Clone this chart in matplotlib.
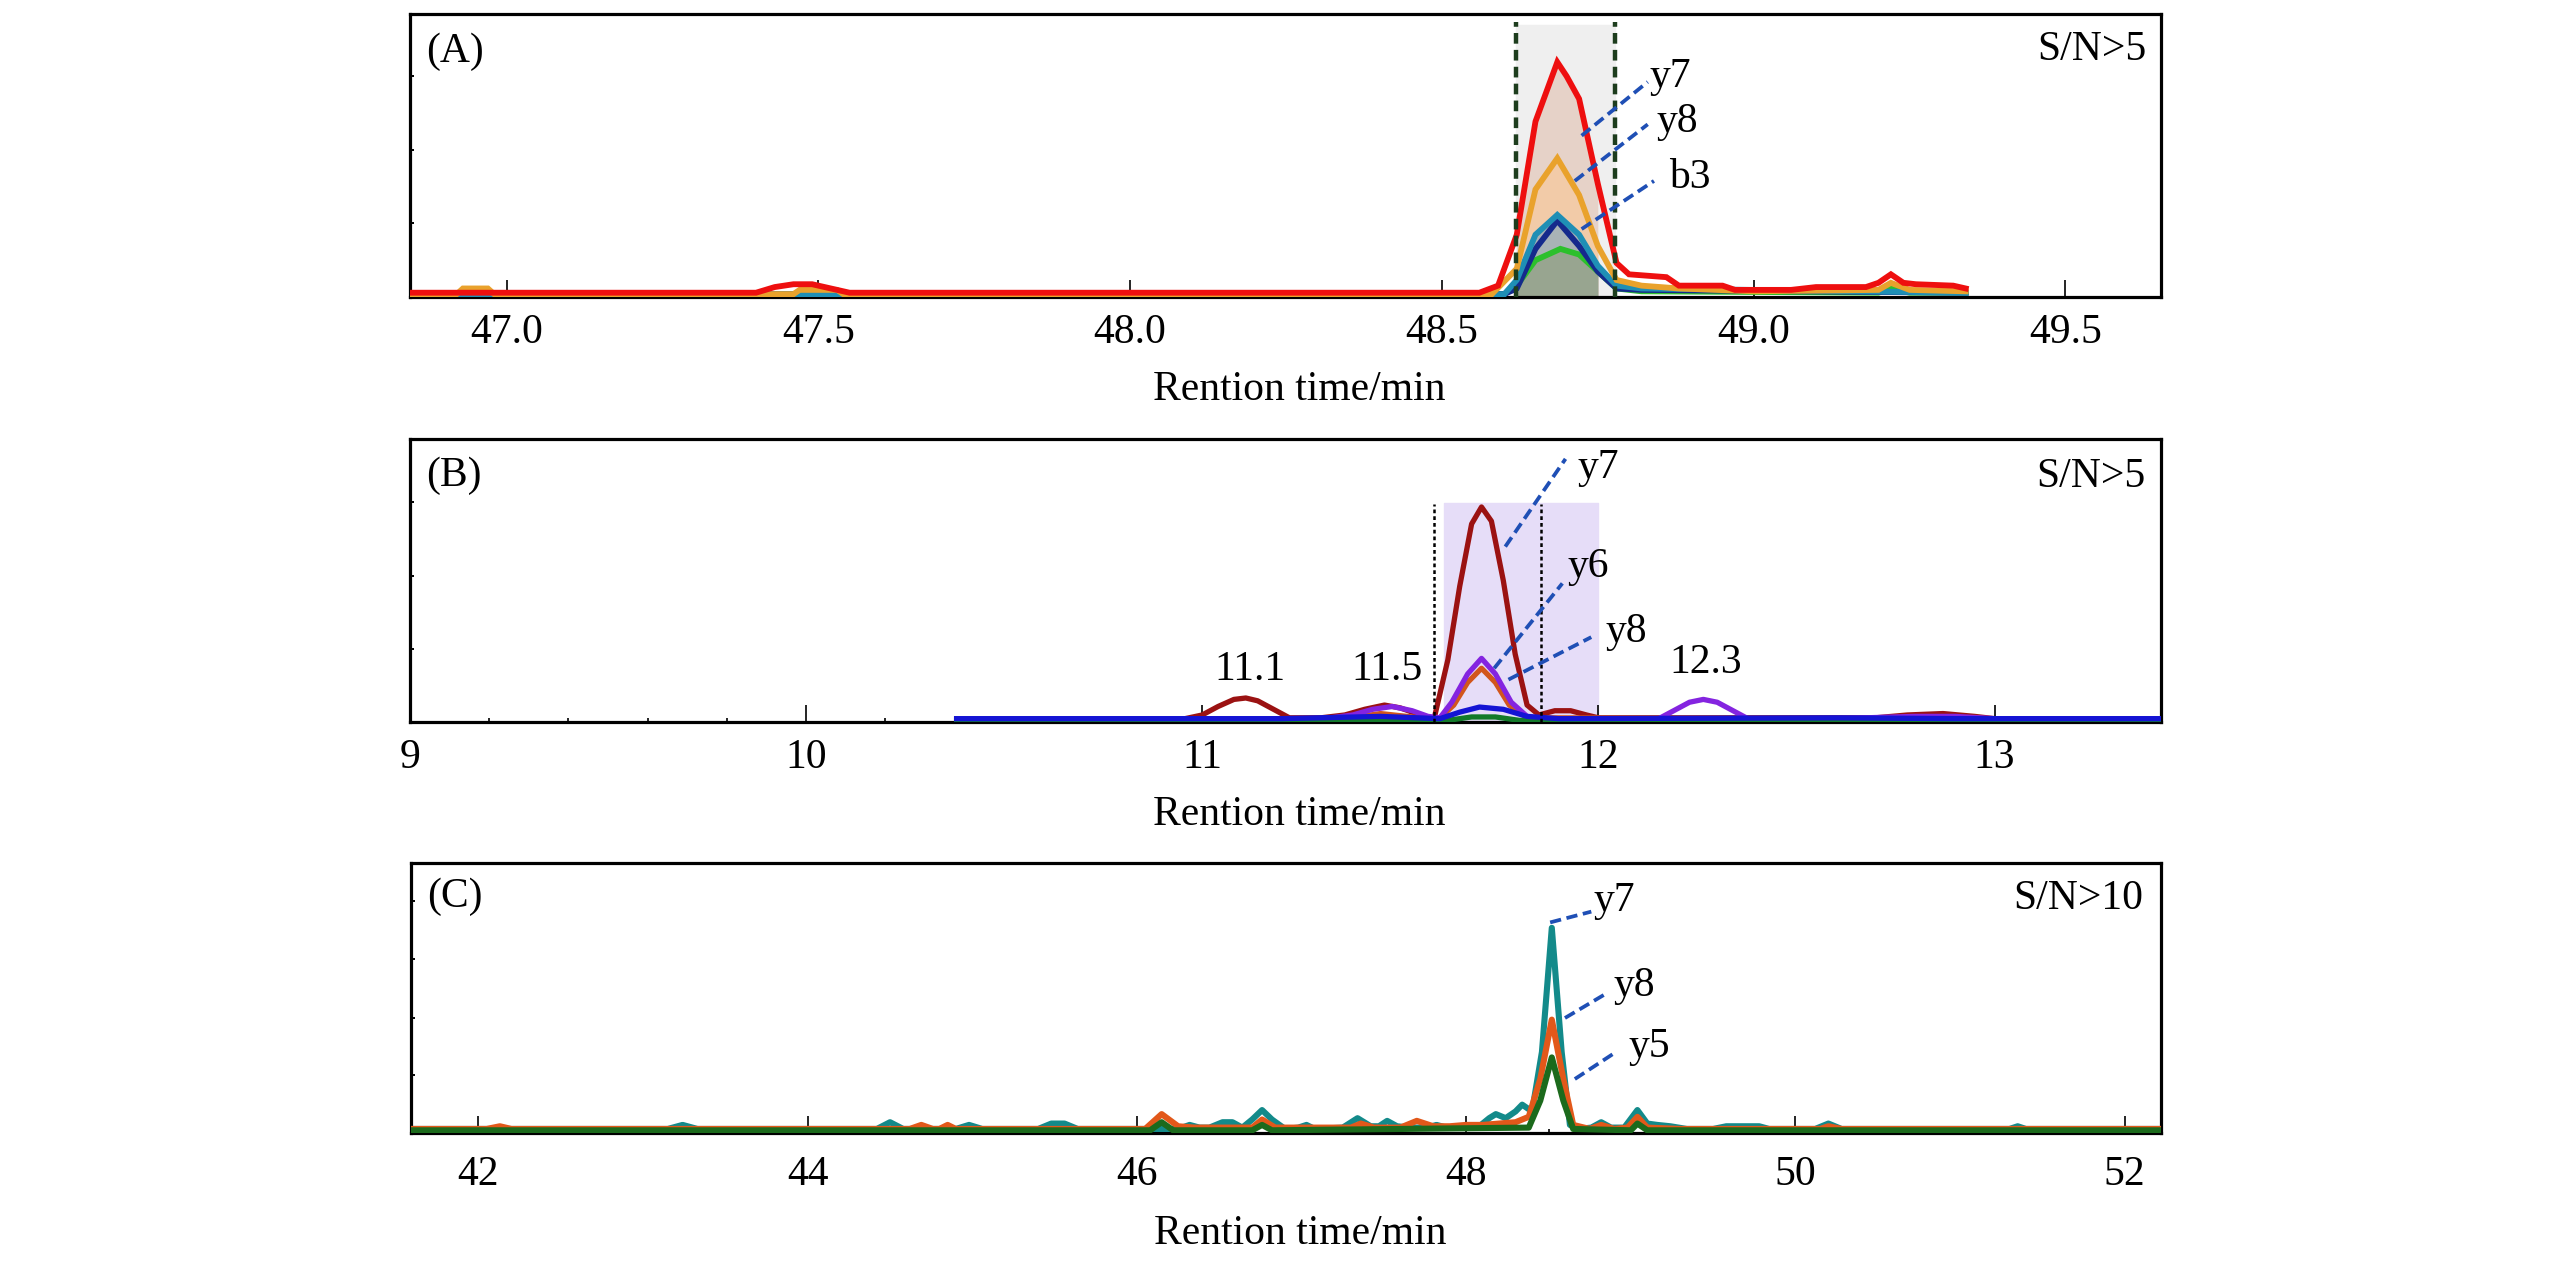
import matplotlib
matplotlib.use("Agg")
import matplotlib.pyplot as plt
from matplotlib.ticker import FixedLocator, MultipleLocator, FormatStrFormatter

plt.rcParams["font.family"] = ["Liberation Serif", "DejaVu Serif"]

# ---------------- data (retention time in min, intensity in % of axis) ----------------
# panel A
A_RED = [(46.845, 1.5), (47.40, 1.5), (47.43, 3.5), (47.46, 4.5), (47.49, 4.5), (47.52, 3.0),
         (47.55, 1.5), (48.56, 1.5), (48.59, 4.0), (48.62, 22), (48.65, 62), (48.685, 83),
         (48.70, 78), (48.72, 70), (48.75, 40), (48.78, 12), (48.80, 8), (48.86, 7), (48.88, 4),
         (48.95, 4), (48.97, 2.5), (49.06, 2.5), (49.10, 3.5), (49.18, 3.5), (49.20, 5),
         (49.22, 8), (49.24, 5), (49.26, 4.5), (49.32, 4), (49.34, 3)]
A_ORANGE = [(46.845, 1), (46.92, 1), (46.93, 3), (46.97, 3), (46.98, 1), (47.46, 1), (47.47, 2.5),
            (47.53, 2.5), (47.54, 1), (48.58, 1), (48.62, 10), (48.65, 38), (48.685, 49),
            (48.72, 36), (48.75, 18), (48.78, 6), (48.82, 4), (48.88, 3), (49.0, 2), (49.2, 2.5),
            (49.22, 5), (49.25, 2.5), (49.34, 2)]
A_TEAL = [(46.845, 1), (48.60, 1), (48.62, 6), (48.65, 22), (48.685, 29), (48.72, 22),
          (48.75, 11), (48.78, 4), (48.82, 3), (49.34, 1.5)]
A_NAVY = [(46.845, 1), (48.60, 1), (48.62, 3), (48.65, 17), (48.685, 27), (48.72, 18),
          (48.75, 9), (48.78, 3), (48.82, 2.5), (49.34, 1.5)]
A_GREEN = [(46.845, 1), (47.47, 1), (47.48, 2), (47.53, 2), (47.54, 1), (48.60, 1), (48.62, 4),
           (48.65, 13), (48.69, 17), (48.72, 15), (48.75, 9), (48.78, 3), (48.82, 2), (49.2, 1.5),
           (49.22, 3), (49.25, 1.5), (49.34, 1.5)]
A_WINDOW = (48.618, 48.778)
A_TICKS = [47.0, 47.5, 48.0, 48.5, 49.0, 49.5]
A_LABELS = [("y7", 48.867, 78), ("y8", 48.877, 62), ("b3", 48.897, 42)]
A_LEADERS = [((48.724, 57), (48.83, 76)), ((48.713, 41), (48.83, 61)), ((48.724, 24), (48.84, 41))]

# panel B
B_MAROON = [(10.38, 1), (10.95, 1), (11.0, 2.5), (11.04, 5.5), (11.08, 8), (11.11, 8.5),
            (11.14, 7.5), (11.18, 4.5), (11.22, 1.5), (11.30, 1.5), (11.36, 2.5), (11.41, 4.5),
            (11.46, 6), (11.50, 5), (11.54, 3), (11.585, 1), (11.62, 22), (11.65, 48),
            (11.68, 70), (11.705, 76), (11.73, 71), (11.76, 50), (11.79, 24), (11.82, 6),
            (11.85, 2.5), (11.89, 4), (11.93, 4), (11.97, 2.5), (12.0, 1.5), (12.70, 1.5),
            (12.78, 2.5), (12.87, 3), (12.95, 2), (13.0, 1.2), (13.42, 1)]
B_PURPLE = [(10.38, 1), (11.30, 1), (11.38, 2.5), (11.43, 4.5), (11.48, 5.5), (11.53, 4),
            (11.57, 2), (11.60, 1.5), (11.63, 7), (11.67, 17), (11.705, 22.5), (11.74, 17),
            (11.78, 7), (11.82, 2), (11.86, 1), (12.15, 1), (12.19, 4), (12.23, 7),
            (12.265, 8), (12.30, 7), (12.34, 4), (12.38, 1), (12.60, 1.2), (12.80, 2),
            (12.90, 2), (13.0, 1.2), (13.42, 1)]
B_BROWN = [(10.38, 1), (11.35, 1), (11.45, 3), (11.55, 1.5), (11.60, 1.5), (11.635, 6),
           (11.67, 14), (11.705, 19), (11.74, 14), (11.775, 6), (11.82, 1.5), (13.42, 1)]
B_GREEN = [(10.38, 0.6), (11.62, 0.6), (11.68, 1.8), (11.74, 1.8), (11.80, 0.6), (13.42, 0.6)]
B_BLUE = [(10.38, 1.2), (11.20, 1.2), (11.45, 2), (11.60, 1.2), (11.65, 3.5), (11.70, 5.3),
          (11.76, 4.5), (11.82, 2), (11.90, 1.2), (12.60, 1.5), (12.90, 1.2), (13.42, 1.2)]
B_WINDOW = (11.61, 12.0)
B_CUTS = [11.585, 11.856]
B_TICKS = [9, 10, 11, 12, 13]
B_LABELS = [("y7", 12.0, 90), ("y6", 11.975, 55), ("y8", 12.07, 32),
            ("11.1", 11.12, 18.5), ("11.5", 11.467, 18.5), ("12.3", 12.27, 21)]
B_LEADERS = [((11.765, 62), (11.917, 93)), ((11.737, 19), (11.909, 49)), ((11.773, 15), (11.982, 30))]

# panel C
C_TEAL = [(41.59, 1.5), (43.15, 1.5), (43.24, 3), (43.33, 1.5), (44.42, 1.5), (44.50, 4),
          (44.58, 1.5), (44.90, 1.5), (44.98, 3), (45.06, 1.5), (45.40, 1.5), (45.48, 3.5),
          (45.56, 3.5), (45.64, 1.5), (46.25, 1.5), (46.32, 3), (46.38, 2), (46.44, 2),
          (46.52, 4), (46.58, 4), (46.64, 2), (46.70, 5), (46.76, 8.5), (46.82, 5), (46.90, 1.5),
          (46.98, 2), (47.03, 3), (47.08, 1.5), (47.25, 2), (47.34, 5.5), (47.42, 2.5),
          (47.47, 2.5), (47.52, 4.5), (47.58, 2.5), (47.66, 2), (47.76, 2), (47.82, 3),
          (47.88, 2), (48.0, 2), (48.08, 2.5), (48.14, 5.5), (48.18, 7), (48.24, 5.5),
          (48.30, 8), (48.34, 10.5), (48.40, 8), (48.46, 30), (48.52, 76), (48.58, 30),
          (48.63, 3), (48.68, 1.5), (48.76, 2), (48.82, 4), (48.88, 2), (48.96, 2), (49.04, 8.5),
          (49.10, 3.5), (49.16, 3), (49.24, 2.5), (49.34, 1.5), (49.50, 1.5), (49.58, 2.5),
          (49.78, 2.5), (49.84, 1.5), (50.12, 1.5), (50.20, 3.5), (50.28, 1.5), (50.90, 1.5),
          (51.30, 1.5), (51.35, 2.5), (51.40, 1.5), (52.22, 1.5)]
C_ORANGE = [(41.59, 1.5), (42.05, 1.5), (42.13, 2.5), (42.20, 1.5), (44.62, 1.5), (44.69, 3),
            (44.76, 1.5), (44.80, 1.5), (44.85, 3), (44.90, 1.5), (46.05, 1.5), (46.15, 7),
            (46.25, 2.5), (46.35, 2), (46.70, 2), (46.76, 5), (46.84, 2), (47.30, 2),
            (47.36, 3.5), (47.44, 2), (47.60, 2), (47.70, 4.5), (47.80, 2.5), (47.90, 2.5),
            (48.0, 3), (48.10, 3), (48.20, 3.5), (48.30, 4), (48.38, 6), (48.45, 20),
            (48.52, 42), (48.59, 20), (48.65, 3), (48.75, 1.5), (48.82, 3), (48.90, 1.5),
            (48.98, 2), (49.04, 6), (49.10, 2), (49.30, 1.5), (50.15, 1.5), (50.20, 2.5),
            (50.28, 1.5), (52.22, 1.5)]
C_GREEN = [(41.59, 1), (46.08, 1), (46.15, 4), (46.22, 1), (46.70, 1), (46.76, 3), (46.82, 1),
           (48.38, 2), (48.45, 12), (48.52, 28), (48.59, 12), (48.65, 1.5), (49.0, 1),
           (49.04, 3.5), (49.10, 1), (52.22, 1)]
C_TICKS = [42, 44, 46, 48, 50, 52]
C_LABELS = [("y7", 48.90, 86), ("y8", 49.02, 54.5), ("y5", 49.11, 32)]
C_LEADERS = [((48.51, 78), (48.76, 82)), ((48.60, 42.6), (48.86, 52)), ((48.66, 20), (48.91, 30))]

FS = 30
LEADER = "#1f4fb5"


def xy(points):
    xs, ys = zip(*points)
    return list(xs), list(ys)


def style_axis(ax, xlim, major, fmt, minor, yticks, pad, label_y):
    ax.set_xlim(*xlim)
    ax.set_ylim(0, 100)
    for sp in ax.spines.values():
        sp.set_linewidth(2.3)
    ax.xaxis.set_major_locator(FixedLocator(major))
    ax.xaxis.set_major_formatter(FormatStrFormatter(fmt))
    if minor:
        ax.xaxis.set_minor_locator(MultipleLocator(minor))
    ax.yaxis.set_major_locator(FixedLocator(yticks))
    ax.tick_params(axis="x", which="major", direction="in", length=12, width=1.2,
                   labelsize=FS, pad=pad)
    ax.tick_params(axis="x", which="minor", direction="in", length=3, width=1.2)
    ax.tick_params(axis="y", which="major", direction="in", length=3, width=1.4,
                   labelleft=False)
    ax.set_xlabel("Rention time/min", fontsize=FS)
    ax.xaxis.set_label_coords(0.508, label_y)


def leaders(ax, lines, labels):
    for (x0, y0), (x1, y1) in lines:
        ax.plot([x0, x1], [y0, y1], color=LEADER, lw=2.7, dashes=(3, 1.5), zorder=6)
    for text, x, y in labels:
        ax.text(x, y, text, fontsize=FS, ha="center", va="center", zorder=7)


fig = plt.figure(figsize=(25.67, 12.61), dpi=100)
axA = fig.add_axes([0.1597, 0.7645, 0.6821, 0.2244])
axB = fig.add_axes([0.1597, 0.4274, 0.6821, 0.2244])
axC = fig.add_axes([0.1601, 0.1015, 0.6817, 0.2141])

# ---------------- panel A ----------------
lo, hi = A_WINDOW
axA.fill_between([lo, hi], 0, 96, color="#efefef", zorder=0)
fills = [(A_RED, "#e6d2c8"), (A_ORANGE, "#f2cba8"), (A_TEAL, "#a9b3b6"), (A_GREEN, "#98a590")]
for pts, col in fills:
    x, y = xy(pts)
    inside = [lo - 1e-6 <= v <= hi + 1e-6 for v in x]
    axA.fill_between(x, 0, y, where=inside, color=col, zorder=1, lw=0)
for pts, col in [(A_GREEN, "#2cc02c"), (A_NAVY, "#152a8c"), (A_TEAL, "#1f8fb5"),
                 (A_ORANGE, "#e9a22c"), (A_RED, "#ee0f0f")]:
    x, y = xy(pts)
    axA.plot(x, y, color=col, lw=4.2, zorder=3, solid_joinstyle="miter")
for xv in A_WINDOW:
    axA.plot([xv, xv], [0, 97], color="#1d3d1d", lw=3.2, dashes=(2.4, 1.4), zorder=4)
leaders(axA, A_LEADERS, A_LABELS)
axA.text(0.009, 0.935, "(A)", transform=axA.transAxes, fontsize=FS, ha="left", va="top")
axA.text(0.992, 0.94, "S/N>5", transform=axA.transAxes, fontsize=FS, ha="right", va="top")
style_axis(axA, (46.845, 49.653), A_TICKS, "%.1f", None, [26, 52, 78], 12, -0.26)

# ---------------- panel B ----------------
lo, hi = B_WINDOW
axB.fill_between([lo, hi], 0, 77.5, color="#e6ddf8", zorder=0)
for xv in B_CUTS:
    axB.plot([xv, xv], [0, 77], color="black", lw=1.8, ls=(0, (1.5, 1.2)), zorder=4)
for pts, col in [(B_MAROON, "#9b1212"), (B_BROWN, "#d2561c"), (B_PURPLE, "#8424e0"),
                 (B_GREEN, "#137a2a"), (B_BLUE, "#1414d4")]:
    x, y = xy(pts)
    axB.plot(x, y, color=col, lw=3.8, zorder=3)
leaders(axB, B_LEADERS, B_LABELS)
axB.text(0.009, 0.94, "(B)", transform=axB.transAxes, fontsize=FS, ha="left", va="top")
axB.text(0.991, 0.935, "S/N>5", transform=axB.transAxes, fontsize=FS, ha="right", va="top")
style_axis(axB, (9.0, 13.42), B_TICKS, "%d", 0.2, [25.8, 51.6, 77.7], 12, -0.26)

# ---------------- panel C ----------------
for pts, col in [(C_TEAL, "#138a8a"), (C_ORANGE, "#e2581a"), (C_GREEN, "#1c6a1c")]:
    x, y = xy(pts)
    axC.plot(x, y, color=col, lw=4.4, zorder=3)
leaders(axC, C_LEADERS, C_LABELS)
axC.text(0.009, 0.945, "(C)", transform=axC.transAxes, fontsize=FS, ha="left", va="top")
axC.text(0.990, 0.94, "S/N>10", transform=axC.transAxes, fontsize=FS, ha="right", va="top")
style_axis(axC, (41.59, 52.22), C_TICKS, "%d", 0.5, [21.5, 42.6, 64.4, 85.9], 16, -0.30)

fig.savefig("out.png", dpi=100, facecolor="white")
